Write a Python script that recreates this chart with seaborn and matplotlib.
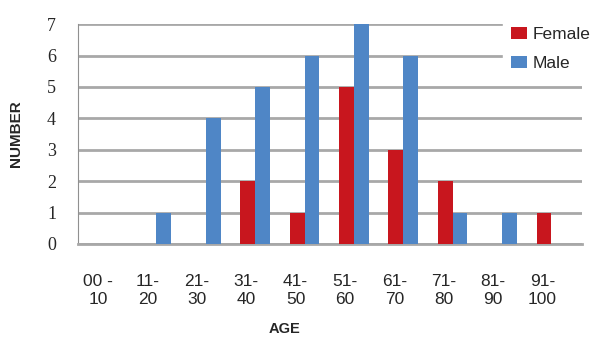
import pandas as pd
import seaborn as sns
import matplotlib.pyplot as plt
from matplotlib.transforms import ScaledTranslation

age_groups = ['00 -\n10', '11-\n20', '21-\n30', '31-\n40', '41-\n50',
              '51-\n60', '61-\n70', '71-\n80', '81-\n90', '91-\n100']
female = [0, 0, 0, 2, 1, 5, 3, 2, 0, 1]
male = [0, 1, 4, 5, 6, 7, 6, 1, 1, 0]

df = pd.DataFrame({
    'age': age_groups * 2,
    'count': female + male,
    'sex': ['Female'] * len(female) + ['Male'] * len(male),
})

sns.set_style('white')
plt.rcParams['font.family'] = ['Liberation Sans', 'DejaVu Sans']

fig = plt.figure(figsize=(6, 3.45), dpi=100)
ax = fig.add_axes([0.13, 0.293, 0.84, 0.637])

sns.barplot(data=df, x='age', y='count', hue='sex',
            palette={'Female': '#C8161E', 'Male': '#4F86C6'}, saturation=1,
            width=0.6, edgecolor='none', ax=ax, zorder=3)

ax.set_ylim(0, 7)
ax.set_xlim(-0.59, 9.62)
ax.set_yticks(range(8))
ax.set_yticklabels([str(i) for i in range(8)], family='Liberation Serif', fontsize=13)
ax.tick_params(axis='y', length=5.8, color='#909090', pad=10)
ax.tick_params(axis='x', length=0, pad=22, labelsize=12.5)
# labels sit a little left of the bars, as in the 3-D original
shift = ScaledTranslation(-9 / 100, 0, fig.dpi_scale_trans)
for lab in ax.get_xticklabels():
    lab.set_transform(lab.get_transform() + shift)

ax.yaxis.grid(True, color='#A8A8A8', linewidth=2, zorder=0)
ax.set_axisbelow(True)
for side in ['top', 'right']:
    ax.spines[side].set_visible(False)
ax.spines['left'].set_color('#909090')
ax.spines['bottom'].set_color('#A8A8A8')
ax.spines['bottom'].set_linewidth(2)

ax.set_xlabel('AGE', fontsize=10.5, fontweight='bold')
ax.xaxis.set_label_coords(0.41, -0.355)
ax.set_ylabel('NUMBER', fontsize=11, fontweight='bold')
ax.yaxis.set_label_coords(-0.109, 0.5)

leg = ax.legend(loc='upper left', bbox_to_anchor=(0.838, 0.948),
                bbox_transform=fig.transFigure, frameon=True, fontsize=12.5,
                handlelength=0.9, handleheight=0.7, handletextpad=0.3,
                labelspacing=0.8, borderaxespad=0, borderpad=0.5)
leg.get_frame().set_edgecolor('white')
leg.get_frame().set_facecolor('white')
leg.get_frame().set_alpha(1)

fig.savefig('out.png', dpi=100)
